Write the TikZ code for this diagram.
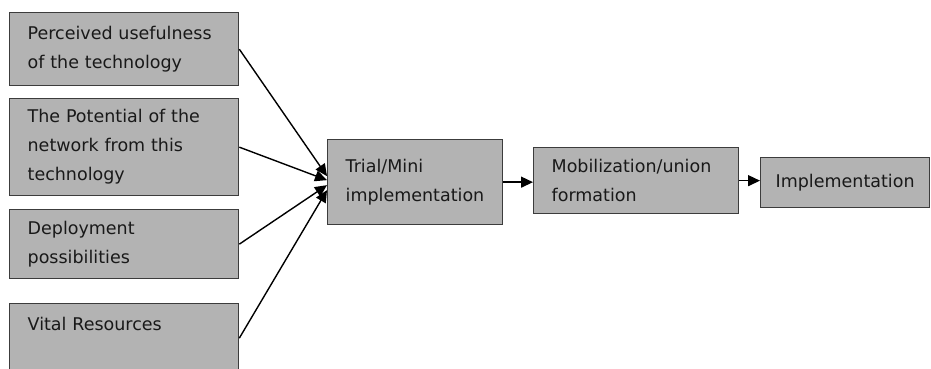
\documentclass[tikz,border=0pt]{standalone}
\usepackage{fontspec}
\setmainfont{DejaVu Sans}
\usetikzlibrary{arrows.meta, positioning, calc}
\definecolor{boxgray}{RGB}{179,179,179}
\definecolor{edgegray}{RGB}{60,60,60}

\begin{document}
\begin{tikzpicture}[x=1pt, y=-1pt, >={Triangle[length=12pt,width=11pt]},
    box/.style={draw=edgegray, line width=1.3pt, fill=boxgray, anchor=north west,
      inner xsep=18pt, inner ysep=0pt, align=left,
      font=\fontsize{17.5}{29}\selectfont, text=black!90},
    link/.style={->, line width=1.4pt}]
  \clip (0,0) rectangle (931,368);
  \fill[white] (0,0) rectangle (931,368);

  % factors on the left
  \node[box, text width=193pt, minimum height=73pt] (useful) at (9,12) {Perceived usefulness\\of the technology};
  \node[box, text width=193pt, minimum height=97pt] (potential) at (9,98) {The Potential of the\\network from this\\technology};
  \node[box, text width=193pt, minimum height=69pt] (deploy) at (9,209) {Deployment\\possibilities};
  \node[box, text width=193pt, minimum height=69pt] (vital) at (9,303) {Vital Resources\\~};

  % stages
  \node[box, text width=139pt, minimum height=85pt] (trial) at (327,139) {Trial/Mini\\implementation};
  \node[box, text width=169pt, minimum height=66pt] (mobil) at (533,147) {Mobilization/union\\formation};
  \node[box, inner xsep=15pt, text width=139pt, minimum height=50pt] (impl) at (760,157) {Implementation};

  % factors into the trial
  \draw[link] (useful.east) -- ([yshift=6pt]trial.west);
  \draw[link] (potential.east) -- ([yshift=2pt]trial.west);
  \draw[link] (deploy.east) -- ([yshift=-3pt]trial.west);
  \draw[link] (vital.east) -- ([yshift=-8pt]trial.west);

  \draw[link] (trial.east) -- (trial.east -| mobil.west);
  \draw[link] (mobil.east) -- (mobil.east -| impl.west);
\end{tikzpicture}
\end{document}
